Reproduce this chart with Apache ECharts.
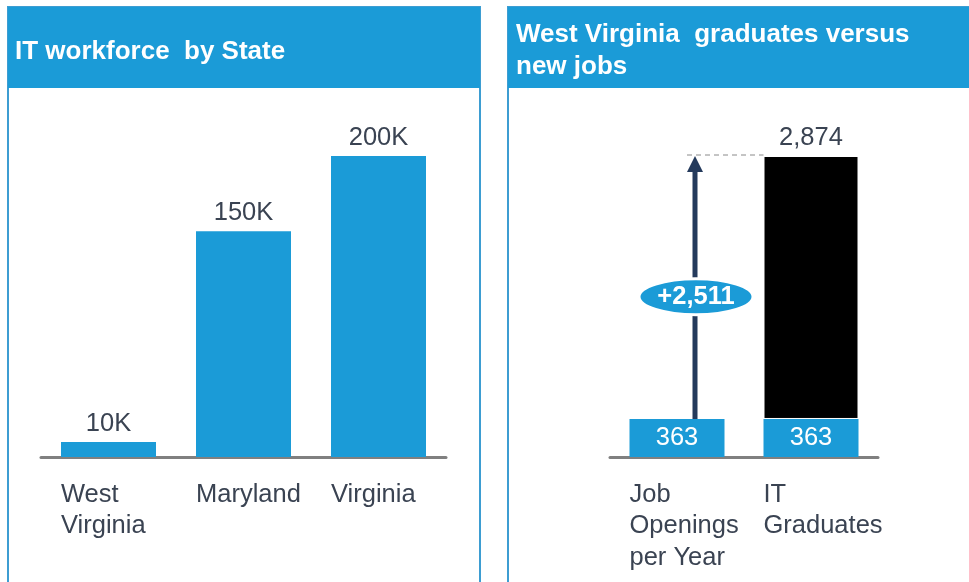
<!DOCTYPE html>
<html><head><meta charset="utf-8">
<script src="https://cdn.jsdelivr.net/npm/echarts@6/dist/echarts.min.js"></script>
<style>html,body{margin:0;padding:0;background:#fff}#c{width:969px;height:582px}</style>
</head><body><div id="c"></div>
<script>
// ---- data ----
const stateCategories = ['West\nVirginia', 'Maryland', 'Virginia'];
const workforceK = [10, 150, 200];
const wvCategories = ['Job\nOpenings\nper Year', 'IT\nGraduates'];
const jobOpeningsPerYear = 363;
const itGraduates = 2874;
const panelTitles = ['IT workforce  by State', 'West Virginia  graduates versus\nnew jobs'];

// ---- style ----
const FONT = '"Liberation Sans", Arial, sans-serif';
const BLUE = '#1b9bd7';
const HEADER = '#1b9bd7';
const BORDER = '#3d9dd2';
const TEXT = '#3a4352';
const NAVY = '#243a5c';
const BW = 95;
const FS = 25.5;

const fmt = v => Number(v).toLocaleString('en-US');

const chart = echarts.init(document.getElementById('c'));
chart.setOption({
  animation: false,
  backgroundColor: '#fff',
  graphic: [
    {type:'rect', z:-10, shape:{x:8,y:7,width:472,height:600}, style:{fill:'#fff', stroke:BORDER, lineWidth:2}},
    {type:'rect', z:-9, shape:{x:8,y:7,width:472,height:81}, style:{fill:HEADER}},
    {type:'rect', z:-10, shape:{x:508,y:7,width:480,height:600}, style:{fill:'#fff', stroke:BORDER, lineWidth:2}},
    {type:'rect', z:-9, shape:{x:508,y:7,width:480,height:81}, style:{fill:HEADER}}
  ],
  title: [
    {text: panelTitles[0], left: 15, top: 36, padding: 0,
     textStyle:{color:'#fff', fontSize:26, fontWeight:'bold', fontFamily:FONT, lineHeight:32}},
    {text: panelTitles[1], left: 516, top: 19, padding: 0,
     textStyle:{color:'#fff', fontSize:26, fontWeight:'bold', fontFamily:FONT, lineHeight:32}}
  ],
  grid: [
    {left:41, width:405, top:156, height:301},
    {left:610, width:268, top:156, height:301}
  ],
  xAxis: [
    {gridIndex:0, type:'category', data:stateCategories,
     axisLine:{lineStyle:{color:'#808080', width:3}}, axisTick:{show:false}, axisLabel:{show:false}},
    {gridIndex:1, type:'category', data:wvCategories,
     axisLine:{lineStyle:{color:'#808080', width:3}}, axisTick:{show:false}, axisLabel:{show:false}}
  ],
  yAxis: [
    {gridIndex:0, type:'value', min:0, max:200, show:false},
    {gridIndex:1, type:'value', min:0, max:itGraduates, show:false}
  ],
  series: [
    {type:'bar', xAxisIndex:0, yAxisIndex:0, data:workforceK, barWidth:BW, barGap:'-100%',
     itemStyle:{color:BLUE},
     label:{show:true, position:'top', distance:5, formatter:p=>p.value+'K',
            color:TEXT, fontSize:FS, fontFamily:FONT}},
    {type:'bar', xAxisIndex:0, yAxisIndex:0, data:workforceK, barWidth:BW, barGap:'-100%', silent:true,
     itemStyle:{color:'transparent'},
     label:{show:true, position:[0,'100%'], offset:[0,22], align:'left', verticalAlign:'top',
            formatter:'{b}', color:TEXT, fontSize:FS, lineHeight:31.5, fontFamily:FONT}},
    {type:'bar', xAxisIndex:1, yAxisIndex:1, stack:'g', data:[jobOpeningsPerYear, jobOpeningsPerYear],
     barWidth:BW, barGap:'-100%', itemStyle:{color:BLUE},
     label:{show:true, position:'inside', formatter:p=>fmt(p.value), color:'#fff', fontSize:FS, fontFamily:FONT}},
    {type:'bar', xAxisIndex:1, yAxisIndex:1, stack:'g', data:['-', itGraduates - jobOpeningsPerYear],
     barWidth:BW, barGap:'-100%', itemStyle:{color:'#000', borderColor:'#fff', borderWidth:1},
     label:{show:true, position:'top', distance:5, formatter:()=>fmt(itGraduates),
            color:TEXT, fontSize:FS, fontFamily:FONT}},
    {type:'bar', xAxisIndex:1, yAxisIndex:1, stack:'lbl', data:[jobOpeningsPerYear, jobOpeningsPerYear],
     barWidth:BW, barGap:'-100%', silent:true, itemStyle:{color:'transparent'},
     label:{show:true, position:[0,'100%'], offset:[0,22], align:'left', verticalAlign:'top',
            formatter:'{b}', color:TEXT, fontSize:FS, lineHeight:31.5, fontFamily:FONT}},
    {type:'custom', xAxisIndex:1, yAxisIndex:1, z:10, silent:true,
     data:[[0, jobOpeningsPerYear, itGraduates, 1]],
     renderItem:(params, api) => {
       const from = api.coord([api.value(0), api.value(1)]);
       const to = api.coord([api.value(0), api.value(2)]);
       const tgt = api.coord([api.value(3), api.value(2)]);
       const x = from[0] + 18;
       const y0 = from[1], y1 = to[1];
       const cy = y0 + (y1 - y0) * 0.465;
       const diff = api.value(2) - api.value(1);
       return {type:'group', children:[
         {type:'line', shape:{x1:x-8, y1:y1-1, x2:tgt[0]-BW/2, y2:y1-1},
          style:{stroke:'#8a8a8a', lineWidth:1, lineDash:[5,4]}},
         {type:'line', shape:{x1:x, y1:y0, x2:x, y2:y1+12}, style:{stroke:NAVY, lineWidth:5}},
         {type:'polygon', shape:{points:[[x,y1],[x-8,y1+16],[x+8,y1+16]]}, style:{fill:NAVY}},
         {type:'ellipse', shape:{cx:x+1, cy:cy, rx:57, ry:18}, style:{fill:BLUE, stroke:'#fff', lineWidth:3}},
         {type:'text', style:{x:x+1, y:cy, text:'+' + fmt(diff), fill:'#fff', fontSize:FS,
          fontWeight:'bold', fontFamily:FONT, align:'center', verticalAlign:'middle'}}
       ]};
     }}
  ]
});
</script></body></html>
